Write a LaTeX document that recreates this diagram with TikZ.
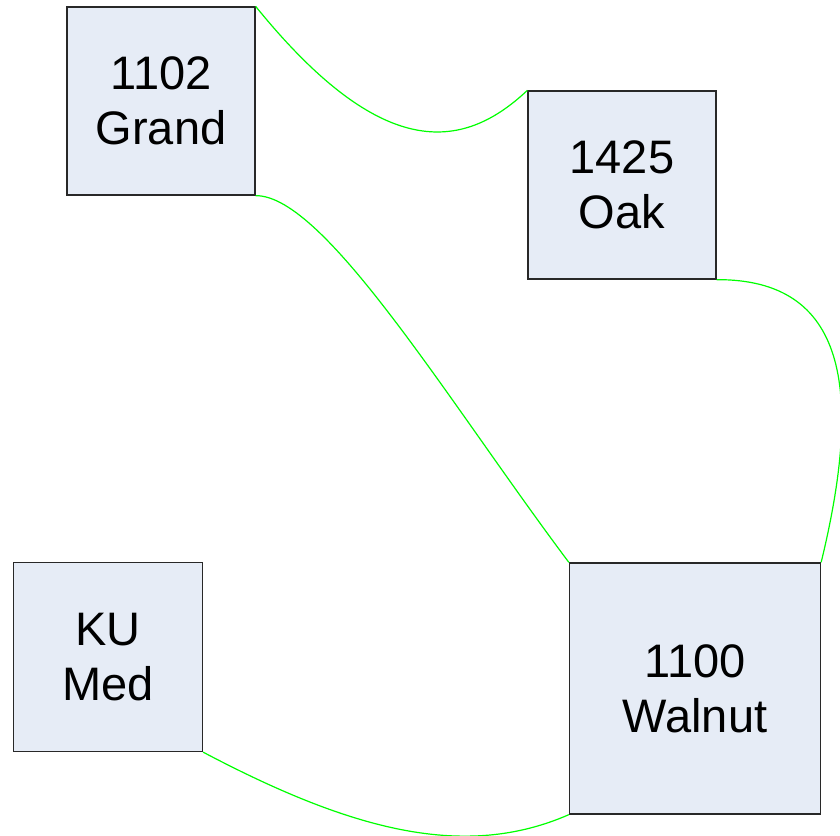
\documentclass[tikz,border=0pt]{standalone}
\usepackage{fontspec}
\setmainfont{Liberation Sans}
\definecolor{boxfill}{RGB}{230,236,246}
\definecolor{boxline}{RGB}{40,40,40}
\definecolor{linkgreen}{RGB}{0,255,0}
\begin{document}
\begin{tikzpicture}[x=1pt,y=-1pt,
  site/.style={draw=boxline,fill=boxfill,line width=1.3pt,inner sep=0pt,
    align=center,font=\fontsize{47}{55}\selectfont},
  link/.style={draw=linkgreen,line width=1.2pt}]
\useasboundingbox (0,0) rectangle (840,835);
\clip (0,0) rectangle (840,835);
\fill[white] (0,0) rectangle (840,835);
\node[site,minimum width=188pt,minimum height=188pt] (grand) at (161,101) {1102\\Grand};
\node[site,minimum width=188pt,minimum height=188pt] (oak) at (622,185) {1425\\Oak};
\node[site,minimum width=189pt,minimum height=189pt] (kumed) at (108,657) {KU\\Med};
\node[site,minimum width=251pt,minimum height=251pt] (walnut) at (695,688.5) {1100\\Walnut};
\draw[link] (grand.north east) .. controls (381,161) and (462,152) .. (oak.north west);
\draw[link] (grand.south east) .. controls (325,195) and (450,404) .. (walnut.north west);
\draw[link] (oak.south east) .. controls (846,279) and (863.5,388) .. (walnut.north east);
\draw[link] (kumed.south east) .. controls (352.6,831) and (465,860) .. (walnut.south west);
\end{tikzpicture}
\end{document}
